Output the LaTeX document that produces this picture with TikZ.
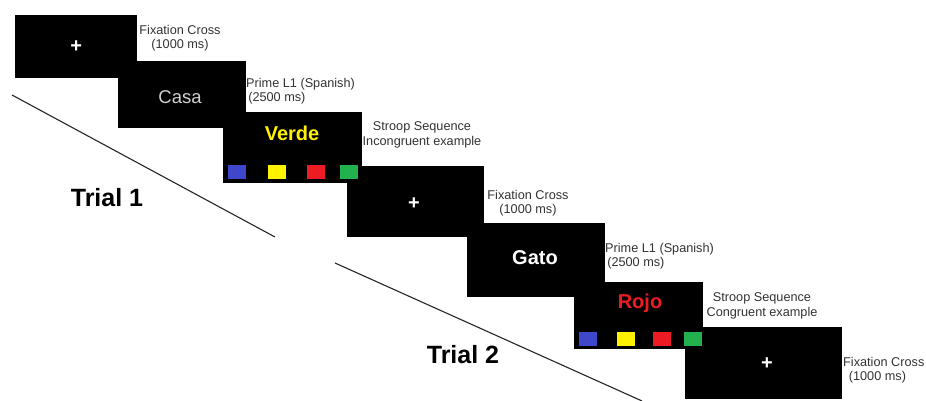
\documentclass[tikz,border=0pt]{standalone}
\usepackage{fontspec}
\setmainfont{Liberation Sans}
\begin{document}
\begin{tikzpicture}[x=1pt,y=-1pt,
  screen/.style={fill=black, draw=none, inner sep=0pt, anchor=north west},
  caption/.style={text=black!80, font=\fontsize{12.7}{14.5}\selectfont, inner sep=0pt, align=center},
  captionl/.style={caption, align=left, anchor=west},
  word/.style={font=\fontsize{20}{22}\selectfont\bfseries, inner sep=0pt},
  cross/.style={text=white, font=\fontsize{20}{20}\selectfont\bfseries, inner sep=0pt},
  trial/.style={font=\fontsize{25}{28}\selectfont\bfseries, inner sep=0pt},
  key/.style={draw=none, inner sep=0pt, minimum width=18pt, minimum height=14pt, anchor=north west},
  divider/.style={draw=black!85, line width=1.1pt}]
\fill[white] (0,0) rectangle (926,401);
\useasboundingbox (0,0) rectangle (926,401);

% ---- Trial 1 ----
\node[screen, minimum width=122pt, minimum height=63pt] (fixA) at (15,15) {};
\node[cross] (plusA) at (fixA.center) {+};
\node[screen, minimum width=128pt, minimum height=67pt] (casa) at (118,61) {};
\node[text=black!18, font=\fontsize{18.5}{20}\selectfont, inner sep=0pt] (casaW) at (180,97) {Casa};
\node[screen, minimum width=139pt, minimum height=71pt] (verde) at (223,112) {};
\node[word, text={rgb,255:red,255;green,242;blue,0}] (verdeW) at (292,133) {Verde};

\node[caption] (capA) at (180,38) {Fixation Cross\\(1000 ms)};
\node[captionl] (capB) at (246,91) {Prime L1 (Spanish)\\\,(2500 ms)};
\node[caption] (capC) at (422,135) {Stroop Sequence\\Incongruent example};

% ---- Trial 2 ----
\node[screen, minimum width=137pt, minimum height=71pt] (fixB) at (347,166) {};
\node[cross] (plusB) at (414,204) {+};
\node[screen, minimum width=138pt, minimum height=74pt] (gato) at (467,223) {};
\node[word, text=white] (gatoW) at (535,258) {Gato};
\node[screen, minimum width=157pt, minimum height=72pt] (fixC) at (685,327) {};
\node[screen, minimum width=129pt, minimum height=67pt] (rojo) at (574,282) {};
\node[word, text={rgb,255:red,237;green,28;blue,36}] (rojoW) at (640,303) {Rojo};
\node[cross] (plusC) at (767,364) {+};

\node[caption] (capD) at (528,203) {Fixation Cross\\(1000 ms)};
\node[captionl] (capE) at (605,256) {Prime L1 (Spanish)\\\,(2500 ms)};
\node[caption] (capF) at (762,306) {Stroop Sequence\\Congruent example};
\node[captionl] (capG) at (843,370) {Fixation Cross\\\;\,(1000 ms)};

% ---- colour response keys ----
\node[key, fill={rgb,255:red,63;green,72;blue,204}] (kA1) at (228,165) {};
\node[key, fill={rgb,255:red,255;green,242;blue,0}] (kA2) at (268,165) {};
\node[key, fill={rgb,255:red,237;green,28;blue,36}] (kA3) at (307,165) {};
\node[key, fill={rgb,255:red,34;green,177;blue,76}] (kA4) at (340,165) {};
\node[key, fill={rgb,255:red,63;green,72;blue,204}] (kB1) at (579,332) {};
\node[key, fill={rgb,255:red,255;green,242;blue,0}] (kB2) at (617,332) {};
\node[key, fill={rgb,255:red,237;green,28;blue,36}] (kB3) at (653,332) {};
\node[key, fill={rgb,255:red,34;green,177;blue,76}] (kB4) at (684,332) {};

% ---- trial dividers and labels ----
\coordinate (dA1) at (12,95);
\coordinate (dA2) at (275,237);
\coordinate (dB1) at (335,263);
\coordinate (dB2) at (642,401);
\draw[divider] (dA1) -- (dA2);
\draw[divider] (dB1) -- (dB2);
\node[trial] (trialA) at (107,198) {Trial 1};
\node[trial] (trialB) at (463,355) {Trial 2};
\end{tikzpicture}
\end{document}
